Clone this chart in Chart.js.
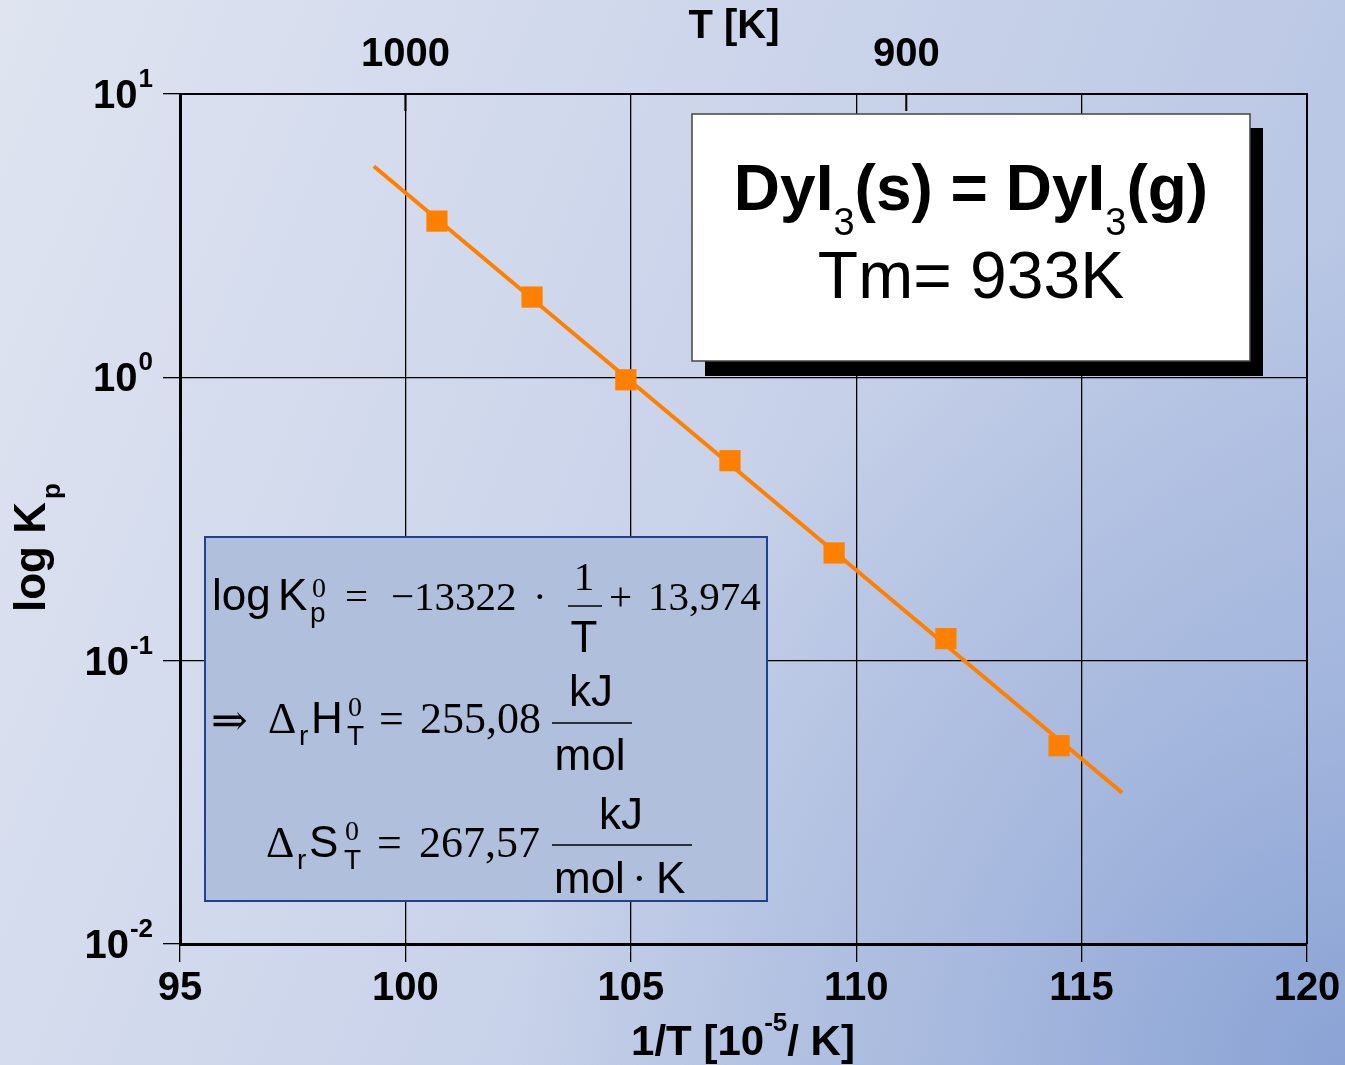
<!DOCTYPE html>
<html>
<head>
<meta charset="utf-8">
<script src="https://cdn.jsdelivr.net/npm/chart.js@4.4.1/dist/chart.umd.min.js"></script>
<style>
  html, body { margin: 0; padding: 0; }
  body {
    width: 1345px; height: 1065px; overflow: hidden;
    background:
      radial-gradient(circle at 100% 100%, rgba(137,162,212,0.95) 0%, rgba(150,172,216,0.55) 22%, rgba(170,188,225,0) 48%),
      linear-gradient(112deg, #dfe4f0 0%, #d0d8ec 35%, #bfcbe6 70%, #aebee2 100%);
  }
  #wrap { position: relative; width: 1345px; height: 1065px; }
</style>
</head>
<body>
<div id="wrap"><canvas id="kpChart" width="1345" height="1065"></canvas></div>
<script>
// measured points: 1/T in 10^-5 K^-1, Kp
const invT = [100.70, 102.81, 104.89, 107.20, 109.51, 111.99, 114.50];
const kp = [3.56, 1.92, 0.98, 0.508, 0.240, 0.1196, 0.0501];

// regression line end points
const fitInvT = [99.3, 115.9];
const fitKp = [5.56, 0.0342];

// axis ticks
const xTicks = [95, 100, 105, 110, 115, 120];
const yTicks = [0.01, 0.1, 1, 10];
const yTickExp = ['-2', '-1', '0', '1'];
const tempTicks = [1000, 900];

const SANS = '"Liberation Sans", Arial, sans-serif';
const SERIF = '"Liberation Serif", "Times New Roman", "DejaVu Serif", serif';
const ORANGE = '#ff8000';

function put(ctx, s, font, x, y, align) {
  ctx.font = font;
  ctx.textAlign = align || 'left';
  ctx.fillText(s, x, y);
}

// draw a run of text pieces [text, font, dy] centred on cx
function runCentered(ctx, parts, cx, y) {
  let w = 0;
  parts.forEach(p => { ctx.font = p[1]; w += ctx.measureText(p[0]).width; });
  let x = cx - w / 2;
  parts.forEach(p => {
    ctx.font = p[1];
    ctx.textAlign = 'left';
    ctx.fillText(p[0], x, y + (p[2] || 0));
    x += ctx.measureText(p[0]).width;
  });
}

function hbar(ctx, x0, x1, y) {
  ctx.beginPath();
  ctx.moveTo(x0, y);
  ctx.lineTo(x1, y);
  ctx.lineWidth = 1.6;
  ctx.strokeStyle = '#000';
  ctx.stroke();
}

const decor = {
  id: 'decor',
  afterDraw(chart) {
    const ctx = chart.ctx;
    const a = chart.chartArea;
    const ys = chart.scales.y;
    const x2 = chart.scales.x2;
    ctx.save();
    ctx.fillStyle = '#000';
    ctx.textBaseline = 'alphabetic';

    // frame (top and right)
    ctx.strokeStyle = '#000';
    ctx.lineWidth = 2;
    ctx.beginPath();
    ctx.moveTo(a.left, a.top);
    ctx.lineTo(a.right, a.top);
    ctx.lineTo(a.right, a.bottom);
    ctx.stroke();

    // inward ticks on the temperature axis
    x2.ticks.forEach(t => {
      const px = x2.getPixelForValue(t.value);
      ctx.beginPath();
      ctx.moveTo(px, a.top);
      ctx.lineTo(px, a.top + 17);
      ctx.lineWidth = 2;
      ctx.stroke();
    });

    // log tick labels 10^n
    yTicks.forEach((v, i) => {
      const py = ys.getPixelForValue(v);
      const right = 153;
      ctx.font = 'bold 26px ' + SANS;
      const sw = ctx.measureText(yTickExp[i]).width;
      put(ctx, yTickExp[i], 'bold 26px ' + SANS, right, py - 7, 'right');
      put(ctx, '10', 'bold 40px ' + SANS, right - sw - 1, py + 14, 'right');
    });

    // axis titles
    put(ctx, 'T [K]', 'bold 40px ' + SANS, 734, 38, 'center');
    runCentered(ctx, [
      ['1/T [10', 'bold 42px ' + SANS, 0],
      ['-5', 'bold 26px ' + SANS, -24],
      ['/ K]', 'bold 42px ' + SANS, 0]
    ], 743, 1055);

    ctx.save();
    ctx.translate(45, 612);
    ctx.rotate(-Math.PI / 2);
    put(ctx, 'log K', 'bold 44px ' + SANS, 0, 0, 'left');
    ctx.font = 'bold 44px ' + SANS;
    const lw = ctx.measureText('log K').width;
    put(ctx, 'p', 'bold 26px ' + SANS, lw + 3, 15, 'left');
    ctx.restore();

    // reaction box with drop shadow
    const bx = 692, by = 114, bw = 558, bh = 247;
    ctx.fillStyle = '#000';
    ctx.fillRect(bx + 13, by + 14, bw, bh + 1);
    ctx.fillStyle = '#fff';
    ctx.fillRect(bx, by, bw, bh);
    ctx.strokeStyle = '#444';
    ctx.lineWidth = 1.5;
    ctx.strokeRect(bx, by, bw, bh);
    ctx.fillStyle = '#000';
    const big = 'bold 64px ' + SANS, sub = '38px ' + SANS;
    runCentered(ctx, [
      ['DyI', big, 0], ['3', sub, 25], ['(s) = DyI', big, 0], ['3', sub, 25], ['(g)', big, 0]
    ], bx + bw / 2, 210);
    put(ctx, 'Tm= 933K', '66px ' + SANS, bx + bw / 2, 298, 'center');

    // equation box
    const ex = 205, ey = 537, ew = 562, eh = 364;
    ctx.fillStyle = '#b0bfdc';
    ctx.fillRect(ex, ey, ew, eh);
    ctx.strokeStyle = '#22408e';
    ctx.lineWidth = 2;
    ctx.strokeRect(ex, ey, ew, eh);
    ctx.fillStyle = '#000';

    const s44 = '44px ' + SANS, r44 = '44px ' + SERIF, r41 = '41px ' + SERIF;
    const s28 = '28px ' + SANS, r28 = '28px ' + SERIF;

    // log Kp = -13322 * 1/T + 13,974
    put(ctx, 'log', s44, 212, 610);
    put(ctx, 'K', s44, 278, 610);
    put(ctx, 'p', s28, 310, 622);
    put(ctx, '0', r28, 312, 597);
    put(ctx, '=', r41, 345, 610);
    put(ctx, '\u221213322', r41, 391, 610);
    put(ctx, '\u00b7', r41, 533, 610);
    put(ctx, '1', r41, 584, 590, 'center');
    hbar(ctx, 568, 602, 606);
    put(ctx, 'T', s44, 584, 652, 'center');
    put(ctx, '+', r41, 609, 610);
    put(ctx, '13,974', r41, 648, 610);

    // enthalpy
    put(ctx, '\u21d2', r44, 211, 735);
    put(ctx, '\u0394', r44, 268, 733);
    put(ctx, 'r', s28, 299, 745);
    put(ctx, 'H', s44, 311, 733);
    put(ctx, 'T', s28, 347, 745);
    put(ctx, '0', r28, 348, 716);
    put(ctx, '=', r44, 379, 733);
    put(ctx, '255,08', r44, 420, 733);
    put(ctx, 'kJ', s44, 591, 706, 'center');
    hbar(ctx, 552, 632, 723);
    put(ctx, 'mol', s44, 590, 770, 'center');

    // entropy
    put(ctx, '\u0394', r44, 266, 857);
    put(ctx, 'r', s28, 297, 869);
    put(ctx, 'S', s44, 309, 857);
    put(ctx, 'T', s28, 344, 869);
    put(ctx, '0', r28, 345, 840);
    put(ctx, '=', r44, 377, 857);
    put(ctx, '267,57', r44, 419, 857);
    put(ctx, 'kJ', s44, 621, 829, 'center');
    hbar(ctx, 552, 692, 845);
    put(ctx, 'mol', s44, 554, 893);
    put(ctx, '\u00b7', r44, 632, 893);
    put(ctx, 'K', s44, 656, 893);

    ctx.restore();
  }
};

new Chart(document.getElementById('kpChart'), {
  type: 'scatter',
  data: {
    datasets: [
      {
        type: 'line',
        data: fitInvT.map((x, i) => ({ x: x, y: fitKp[i] })),
        borderColor: ORANGE,
        borderWidth: 4,
        pointRadius: 0,
        showLine: true,
        order: 2
      },
      {
        data: invT.map((x, i) => ({ x: x, y: kp[i] })),
        pointStyle: 'rect',
        pointRadius: 15,
        pointBorderWidth: 0,
        backgroundColor: ORANGE,
        borderColor: ORANGE,
        order: 1
      }
    ]
  },
  options: {
    responsive: false,
    animation: false,
    layout: { padding: { left: 0, top: 0, right: 38, bottom: 0 } },
    plugins: {
      legend: { display: false },
      tooltip: { enabled: false }
    },
    scales: {
      x: {
        type: 'linear',
        position: 'bottom',
        min: 95,
        max: 120,
        afterBuildTicks: s => { s.ticks = xTicks.map(v => ({ value: v })); },
        afterFit: s => { s.height = 121; },
        ticks: {
          color: '#000',
          font: { family: SANS, size: 40, weight: 'bold' },
          padding: 3,
          maxRotation: 0,
          autoSkip: false
        },
        grid: { color: '#000', lineWidth: 1.3, tickLength: 18 },
        border: { color: '#000', width: 3 }
      },
      x2: {
        type: 'linear',
        position: 'top',
        min: 95,
        max: 120,
        afterBuildTicks: s => { s.ticks = tempTicks.map(T => ({ value: 1e5 / T })); },
        afterFit: s => { s.height = 94; },
        ticks: {
          color: '#000',
          font: { family: SANS, size: 40, weight: 'bold' },
          padding: 7,
          maxRotation: 0,
          autoSkip: false,
          callback: (v, i) => String(tempTicks[i])
        },
        grid: { display: false },
        border: { display: false }
      },
      y: {
        type: 'logarithmic',
        position: 'left',
        min: 0.01,
        max: 10,
        afterBuildTicks: s => { s.ticks = yTicks.map(v => ({ value: v })); },
        afterFit: s => { s.width = 180; },
        ticks: { display: false },
        grid: { color: '#000', lineWidth: 1.3, tickLength: 17 },
        border: { color: '#000', width: 3 }
      }
    }
  },
  plugins: [decor]
});
</script>
</body>
</html>
